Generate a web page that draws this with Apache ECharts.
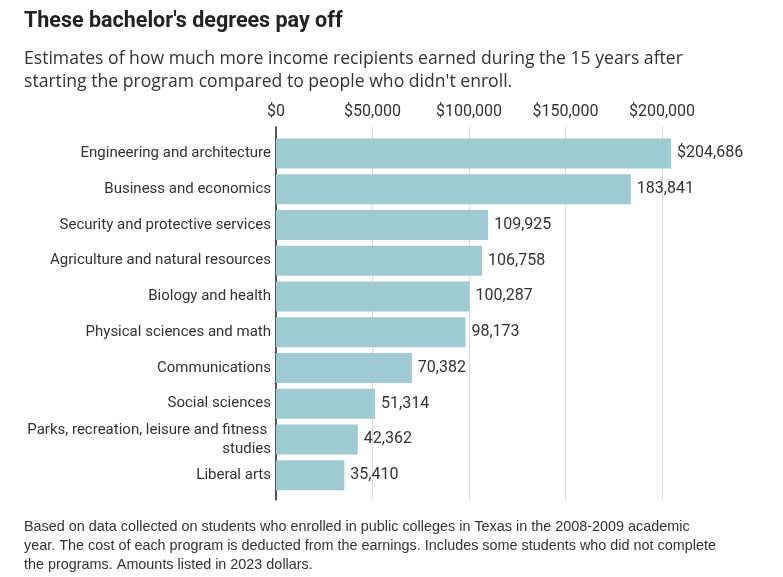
<!DOCTYPE html>
<html><head><meta charset="utf-8">
<script src="https://cdn.jsdelivr.net/npm/echarts@6/dist/echarts.min.js"></script>
<style>html,body{margin:0;padding:0;background:#fff}#c{width:783px;height:577px}</style>
</head><body><div id="c"></div>
<script>
const categories = [
  "Engineering and architecture",
  "Business and economics",
  "Security and protective services",
  "Agriculture and natural resources",
  "Biology and health",
  "Physical sciences and math",
  "Communications",
  "Social sciences",
  "Parks, recreation, leisure and fitness studies",
  "Liberal arts"
];
const earnings = [204686, 183841, 109925, 106758, 100287, 98173, 70382, 51314, 42362, 35410];
const tickValues = [0, 50000, 100000, 150000, 200000];

const FONT = 'Roboto, "Noto Sans", sans-serif';
const chart = echarts.init(document.getElementById('c'));
const fmt = v => v.toLocaleString('en-US');
chart.setOption({
  animation: false,
  title: [
    {text: "These bachelor's degrees pay off", left: 24, top: 11, padding: 0,
     textStyle: {fontFamily: FONT, fontSize: 21.5, fontWeight: 'bold', color: '#222'}},
    {text: "Estimates of how much more income recipients earned during the 15 years after\nstarting the program compared to people who didn't enroll.",
     left: 24, top: 47, padding: 0,
     textStyle: {fontFamily: '"Open Sans", sans-serif', fontSize: 17.6, fontWeight: 'normal', color: '#333', lineHeight: 23}},
    {text: "Based on data collected on students who enrolled in public colleges in Texas in the 2008-2009 academic\nyear. The cost of each program is deducted from the earnings. Includes some students who did not complete\nthe programs. Amounts listed in 2023 dollars.",
     left: 24, top: 518, padding: 0,
     textStyle: {fontFamily: '"Liberation Sans", sans-serif', fontSize: 14.4, fontWeight: 'normal', color: '#333', lineHeight: 19}}
  ],
  grid: [
    {left: 276, right: 121, top: 135.5, height: 357.5},
    {left: 276, right: 121, top: 127, bottom: 77}
  ],
  xAxis: [
    {gridIndex: 0, type: 'value', min: 0, max: 200000, interval: 50000, show: false},
    {gridIndex: 1, type: 'value', min: 0, max: 200000, interval: 50000, position: 'top',
     axisLine: {show: false}, axisTick: {show: false},
     splitLine: {show: true, lineStyle: {color: '#dcdcdc', width: 1}},
     axisLabel: {margin: 7, color: '#333', fontFamily: FONT, fontSize: 16,
       formatter: v => tickValues.includes(v) ? '$' + fmt(v) : ''}}
  ],
  yAxis: [
    {gridIndex: 0, type: 'category', data: categories, inverse: true,
     axisLine: {show: false}, axisTick: {show: false}, splitLine: {show: false},
     axisLabel: {margin: 5, color: '#333', fontFamily: FONT, fontSize: 15, lineHeight: 19,
       width: 250, overflow: 'break'}},
    {gridIndex: 1, type: 'value', min: 0, max: 1,
     axisLine: {show: true, lineStyle: {color: '#222', width: 1.5}},
     axisTick: {show: false}, axisLabel: {show: false}, splitLine: {show: false}}
  ],
  series: [{
    type: 'bar', xAxisIndex: 0, yAxisIndex: 0, data: earnings, barWidth: 30, clip: false,
    itemStyle: {color: '#a0cad1'},
    label: {show: true, position: 'right', distance: 6, color: '#333', fontFamily: FONT, fontSize: 16,
      formatter: p => (p.dataIndex === 0 ? '$' : '') + fmt(p.value)}
  }]
});
</script></body></html>
